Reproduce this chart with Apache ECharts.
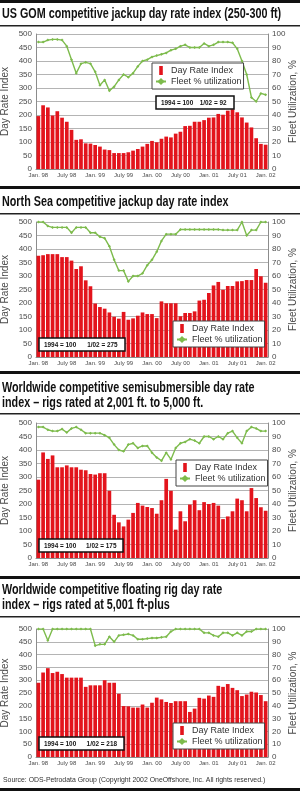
<!DOCTYPE html>
<html>
<head>
<meta charset="utf-8">
<script src="https://cdn.jsdelivr.net/npm/echarts@6/dist/echarts.min.js"></script>
<style>
  html, body { margin: 0; padding: 0; background: #fff; }
  #main { width: 300px; height: 791px; }
</style>
</head>
<body>
<div id="main"></div>
<script>
// months Jan 98 .. Jan 02
const months = [
  'Jan. 98', 'Feb. 98', 'Mar. 98', 'Apr. 98', 'May 98', 'June 98', 'July 98', 'Aug. 98', 'Sep. 98', 'Oct. 98', 'Nov. 98', 'Dec. 98',
  'Jan. 99', 'Feb. 99', 'Mar. 99', 'Apr. 99', 'May 99', 'June 99', 'July 99', 'Aug. 99', 'Sep. 99', 'Oct. 99', 'Nov. 99', 'Dec. 99',
  'Jan. 00', 'Feb. 00', 'Mar. 00', 'Apr. 00', 'May 00', 'June 00', 'July 00', 'Aug. 00', 'Sep. 00', 'Oct. 00', 'Nov. 00', 'Dec. 00',
  'Jan. 01', 'Feb. 01', 'Mar. 01', 'Apr. 01', 'May 01', 'June 01', 'July 01', 'Aug. 01', 'Sep. 01', 'Oct. 01', 'Nov. 01', 'Dec. 01',
  'Jan. 02'
];

// US GOM jackup 250-300 ft
const gomRate = [196, 236, 228, 198, 214, 190, 175, 145, 108, 110, 95, 94, 89, 83, 72, 70, 59, 59, 59, 62, 68, 74, 83, 93, 104, 99, 112, 120, 117, 131, 138, 159, 160, 175, 175, 181, 190, 191, 204, 201, 216, 221, 210, 191, 172, 154, 114, 93, 90];
const gomUtil = [94, 94, 95.5, 96, 96, 95.5, 91, 81, 71, 78, 79, 78, 72, 62, 66, 58, 61, 66, 70, 68, 71, 76, 80, 81, 83, 84, 85, 86, 88, 89, 91, 92, 90, 90, 90, 93, 91, 92, 94, 94, 94, 93.5, 89, 80, 70, 53, 50, 56, 55];

// North Sea jackup
const nsRate = [375, 377, 381, 381, 381, 370, 370, 357, 326, 336, 284, 262, 198, 185, 179, 165, 149, 142, 167, 138, 143, 153, 165, 159, 159, 144, 206, 199, 199, 199, 151, 163, 163, 169, 209, 212, 237, 265, 278, 249, 263, 263, 280, 281, 285, 285, 326, 299, 275];
const nsUtil = [100, 100, 97, 96, 96, 96, 96, 92, 96, 96, 96, 92, 92, 89, 88, 82, 72, 64, 64, 56, 60, 60, 62, 68, 72, 78, 86, 91, 91, 91, 94.5, 94.5, 94.5, 94.5, 94.5, 94.5, 94.5, 94.5, 94.5, 94, 94, 94, 94, 100, 90, 94, 94, 100, 100];

// Worldwide semisubmersible 2,001-5,000 ft
const ssRate = [290, 391, 367, 380, 336, 336, 343, 336, 336, 327, 325, 311, 309, 314, 314, 249, 160, 132, 117, 142, 167, 204, 194, 189, 185, 164, 214, 293, 249, 105, 173, 136, 198, 214, 177, 207, 200, 204, 194, 144, 154, 173, 220, 214, 173, 259, 222, 188, 175];
const ssUtil = [97, 97, 95, 94, 94, 95.5, 93, 96, 97, 95, 92.5, 92.5, 92.5, 92.5, 91, 89, 84, 80, 79, 84, 85, 81.5, 83, 83, 78, 74.5, 72, 78, 73, 81.5, 85, 86, 88, 87, 85, 90, 90, 88, 90, 88, 92.5, 94, 89, 85, 94, 97, 96, 94, 94];

// Worldwide floating rig 5,001 ft-plus
const flRate = [290, 330, 347, 328, 333, 324, 310, 310, 310, 310, 274, 280, 280, 280, 300, 290, 290, 247, 199, 198, 193, 193, 205, 193, 212, 232, 225, 215, 211, 218, 218, 218, 176, 189, 231, 228, 240, 235, 278, 274, 285, 270, 261, 238, 244, 255, 252, 242, 218];
const flUtil = [100, 100, 91, 100, 100, 100, 100, 100, 100, 100, 100, 100, 87, 88, 88, 94, 90, 95, 95.5, 96, 95, 92, 92, 92.5, 93, 93, 93.5, 94, 98, 100, 100, 100, 100, 100, 100, 97, 97, 95, 94, 97, 97, 95, 97, 95, 98, 98, 100, 100, 100];

const titles = [
  'US GOM competitive jackup day rate index (250-300 ft)',
  'North Sea competitive jackup day rate index',
  'Worldwide competitive semisubmersible day rate\nindex \u2013 rigs rated at 2,001 ft. to 5,000 ft.',
  'Worldwide competitive floating rig day rate\nindex \u2013 rigs rated at 5,001 ft-plus'
];
const baseNotes = ['1/02 = 92', '1/02 = 275', '1/02 = 175', '1/02 = 218'];
const source = 'Source: ODS-Petrodata Group (Copyright 2002 OneOffshore, Inc. All rights reserved.)';

const RED = '#e3141c';
const GREEN = '#7dbb4c';
const AXIS = '#8c8c8c';
const LABEL = '#4a4a4a';
const FONT = "'Liberation Sans', Arial, sans-serif";

// layout per panel
const panels = [
  { rate: gomRate, util: gomUtil, titleY: 7, top: 34, height: 135, legend: [152, 63], note: [156, 96, 78] },
  { rate: nsRate, util: nsUtil, titleY: 195, top: 222, height: 135, legend: [173, 321], note: [39, 338, 86] },
  { rate: ssRate, util: ssUtil, titleY: 381, top: 423, height: 135, legend: [176, 460], note: [39, 539, 84] },
  { rate: flRate, util: flUtil, titleY: 583, top: 629, height: 128, legend: [173, 723], note: [39, 737, 85] }
];

const chart = echarts.init(document.getElementById('main'));

const grid = [], xAxis = [], yAxis = [], series = [], legend = [], graphic = [];

panels.forEach((p, i) => {
  grid.push({ left: 36, right: 32, top: p.top, height: p.height, containLabel: false, outerBoundsMode: 'none' });

  // condensed bold heading
  graphic.push({
    type: 'text',
    x: 2,
    y: p.titleY,
    scaleX: 0.77,
    z: 30,
    style: {
      text: titles[i],
      font: 'bold 14px ' + FONT,
      lineHeight: 15,
      fill: '#111',
      verticalAlign: 'top'
    }
  });

  xAxis.push({
    type: 'category',
    gridIndex: i,
    data: months,
    axisLine: { lineStyle: { color: AXIS } },
    axisTick: { show: false },
    axisLabel: { interval: 5, fontSize: 6, color: LABEL, margin: 3, fontFamily: FONT }
  });

  yAxis.push({
    type: 'value',
    gridIndex: i,
    position: 'left',
    min: 0,
    max: 500,
    interval: 50,
    name: 'Day Rate Index',
    nameLocation: 'middle',
    nameRotate: 90,
    nameGap: 26,
    nameMoveOverlap: false,
    nameTextStyle: { fontSize: 10, color: LABEL, fontFamily: FONT },
    axisLine: { show: true, lineStyle: { color: AXIS } },
    axisTick: { show: false },
    axisLabel: { fontSize: 8, color: LABEL, margin: 4, fontFamily: FONT },
    splitLine: { lineStyle: { color: '#b4b4b4', width: 1 } }
  });
  yAxis.push({
    type: 'value',
    gridIndex: i,
    position: 'right',
    min: 0,
    max: 100,
    interval: 10,
    name: 'Fleet Utilization, %',
    nameLocation: 'middle',
    nameRotate: 90,
    nameGap: 20,
    nameMoveOverlap: false,
    nameTextStyle: { fontSize: 10, color: LABEL, fontFamily: FONT },
    axisLine: { show: true, lineStyle: { color: AXIS } },
    axisTick: { show: false },
    axisLabel: { fontSize: 8, color: LABEL, margin: 4, fontFamily: FONT },
    splitLine: { show: false }
  });

  series.push({
    name: 'Day Rate Index',
    type: 'bar',
    xAxisIndex: i,
    yAxisIndex: i * 2,
    barCategoryGap: '22%',
    itemStyle: { color: RED },
    data: p.rate
  });
  series.push({
    name: 'Fleet % utilization',
    type: 'line',
    xAxisIndex: i,
    yAxisIndex: i * 2 + 1,
    symbol: 'diamond',
    symbolSize: 3,
    lineStyle: { width: 1.4, color: GREEN },
    itemStyle: { color: GREEN },
    z: 5,
    data: p.util
  });

  legend.push({
    orient: 'vertical',
    left: p.legend[0],
    top: p.legend[1],
    padding: [3, 2, 3, 3],
    itemGap: 2,
    itemWidth: 10,
    itemHeight: 9,
    backgroundColor: '#fff',
    borderColor: '#444',
    borderWidth: 1,
    z: 10,
    textStyle: { fontSize: 9, color: '#333', fontFamily: FONT },
    data: [
      { name: 'Day Rate Index', icon: 'path://M0,0L0,0M3,0L7,0L7,10L3,10ZM10,10L10,10' },
      { name: 'Fleet % utilization' }
    ]
  });

  // "1994 = 100" base note box
  const [nx, ny, nw] = p.note;
  graphic.push({
    type: 'rect',
    x: nx,
    y: ny,
    z: 20,
    shape: { x: 0, y: 0, width: nw, height: 13 },
    style: { fill: '#fff', stroke: '#111', lineWidth: 1.5 }
  });
  graphic.push({
    type: 'text',
    x: nx + 5,
    y: ny + 3,
    scaleX: 0.8,
    z: 21,
    style: { text: '1994 = 100', font: 'bold 8px ' + FONT, fill: '#111', verticalAlign: 'top' }
  });
  graphic.push({
    type: 'text',
    x: nx + nw * 0.56,
    y: ny + 3,
    scaleX: 0.8,
    z: 21,
    style: { text: baseNotes[i], font: 'bold 8px ' + FONT, fill: '#111', verticalAlign: 'top' }
  });
});

graphic.push({
  type: 'text',
  x: 3,
  y: 777,
  z: 30,
  style: { text: source, font: '6.9px ' + FONT, fill: '#333', verticalAlign: 'top' }
});

// black separator bars and title rules
[[0, 3], [186, 3], [371, 3], [576, 3], [788, 3]].forEach(([y, h]) => {
  graphic.push({ type: 'rect', x: 0, y: y, z: 30, shape: { width: 300, height: h }, style: { fill: '#111' } });
});
[25, 213, 413, 616].forEach((y) => {
  graphic.push({ type: 'rect', x: 0, y: y, z: 30, shape: { width: 300, height: 1.5 }, style: { fill: '#222' } });
});

chart.setOption({
  animation: false,
  backgroundColor: '#fff',
  grid,
  xAxis,
  yAxis,
  legend,
  series,
  graphic
});
</script>
</body>
</html>
